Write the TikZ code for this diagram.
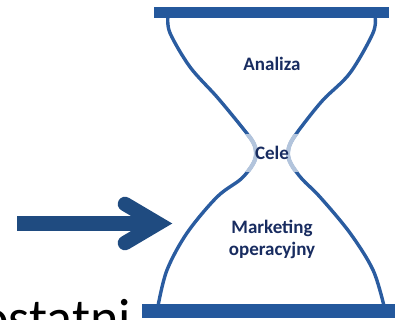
\documentclass[tikz,border=0pt]{standalone}
\usepackage{fontspec}
\setmainfont{Carlito}
\definecolor{barblue}{RGB}{36,88,156}
\definecolor{glassblue}{RGB}{42,92,160}
\definecolor{neckblue}{RGB}{178,196,220}
\definecolor{arrowblue}{RGB}{31,75,128}
\definecolor{labelnavy}{RGB}{24,44,96}
\tikzset{
  bar/.style={fill=barblue, draw=none},
  glassline/.style={draw=glassblue, line width=3.4pt, line cap=round},
  neckline/.style={draw=neckblue, line width=4.2pt},
  stagelabel/.style={font=\fontsize{19}{22}\selectfont\bfseries, text=labelnavy, align=center, inner sep=0pt},
  bigarrow/.style={draw=arrowblue, line width=14.5pt},
}
\begin{document}
\begin{tikzpicture}[x=1pt, y=-1pt]
  \useasboundingbox (0,0) rectangle (395,320);
  \clip (0,0) rectangle (395,320);

  % large slide text running behind the base of the glass
  \node[anchor=base west, inner sep=0pt, font=\fontsize{54}{60}\selectfont] (slidetext) at (-20,336) {ostatni};

  % outline of the glass
  \path[glassline] plot[smooth, tension=0.55] coordinates {
    (168,16) (170,33) (190,67) (217,97) (241,126) (253,142) (256,153)
    (253,164) (241,179) (217,197) (187,233) (167,270) (158,306)};
  \path[glassline] plot[smooth, tension=0.55] coordinates {
    (375,16) (373,33) (350,73) (323,100) (302,126) (291,142) (288,153)
    (291,164) (302,179) (320,197) (350,233) (373,270) (384,306)};

  % pale neck segments
  \begin{scope}
    \clip (200,135) rectangle (340,171);
    \path[neckline] plot[smooth, tension=0.55] coordinates {
      (217,97) (241,126) (253,142) (256,153) (253,164) (241,179) (217,197)};
    \path[neckline] plot[smooth, tension=0.55] coordinates {
      (323,100) (302,126) (291,142) (288,153) (291,164) (302,179) (320,197)};
  \end{scope}

  % top and bottom plates
  \path[bar] (154,7) rectangle (389,18.5);
  \path[bar] (142,304) rectangle (400,318);

  % labels
  \node[stagelabel, anchor=base] (analiza) at (272,70.5) {Analiza};
  \node[stagelabel, anchor=base] (cele) at (272,160) {Cele};
  \node[stagelabel, anchor=base] (marketing) at (272,255) {Marketing\\operacyjny};

  % arrow pointing at the lower chamber
  \coordinate (tail) at (17,223.5);
  \coordinate (joint) at (158,223.5);
  \coordinate (armtop) at (125,204);
  \coordinate (armbot) at (125,243);
  \draw[bigarrow, line cap=butt] (tail) -- (joint);
  \draw[bigarrow, line cap=round, line join=miter] (armtop) -- (joint) -- (armbot);
\end{tikzpicture}
\end{document}
